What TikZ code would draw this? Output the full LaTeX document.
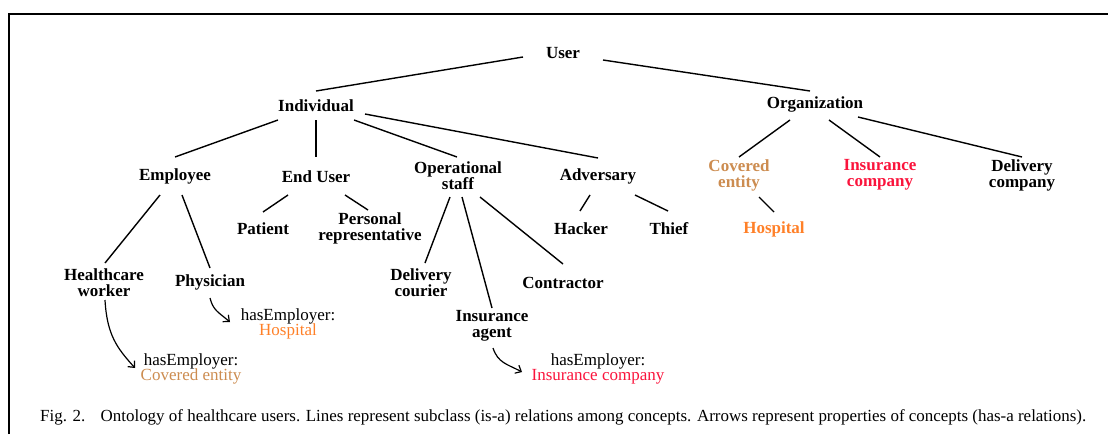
\documentclass[tikz,border=0pt]{standalone}
\usepackage{fontspec}
\setmainfont{Liberation Serif}
\usetikzlibrary{calc,arrows.meta}
\definecolor{coveredtan}{RGB}{204,140,80}
\definecolor{hosporange}{RGB}{255,128,40}
\definecolor{insred}{RGB}{250,20,60}
\begin{document}
\begin{tikzpicture}[x=1pt,y=-1pt,
  concept/.style={font=\bfseries\fontsize{17}{16}\selectfont, align=center, inner sep=0pt},
  prop/.style={font=\fontsize{17}{15.5}\selectfont, align=center, inner sep=0pt},
  isa/.style={line width=1.4pt},
  hasa/.style={line width=1.2pt, -{Straight Barb[length=5pt,width=9pt]}}]
\useasboundingbox (0,0) rectangle (1108,434);
% frame
\draw[line width=2pt] (8.5,434) -- (8.5,14) -- (1108,14);

% concepts
\node[concept] (user) at (563,53) {User};
\node[concept] (ind) at (316,106) {Individual};
\node[concept] (org) at (815,104) {Organization};
\node[concept] (emp) at (175,176) {Employee};
\node[concept] (enduser) at (316,177) {End User};
\node[concept] (ops) at (458,176) {Operational\\staff};
\node[concept] (adv) at (598,176) {Adversary};
\node[concept, text=coveredtan] (cov) at (739,175) {Covered\\entity};
\node[concept, text=insred] (insco) at (880,175) {Insurance\\company};
\node[concept] (delco) at (1022,175) {Delivery\\company};
\node[concept] (pat) at (263,229) {Patient};
\node[concept] (rep) at (370,228) {Personal\\representative};
\node[concept] (hack) at (581,229) {Hacker};
\node[concept] (thief) at (669,229) {Thief};
\node[concept, text=hosporange] (hosp) at (774,229) {Hospital};
\node[concept] (hw) at (104,283) {Healthcare\\worker};
\node[concept] (phys) at (210,282) {Physician};
\node[concept] (courier) at (421,283) {Delivery\\courier};
\node[concept] (contr) at (563,283) {Contractor};
\node[concept] (agent) at (492,326) {Insurance\\agent};

% properties
\node[prop] (phosp) at (288,324) {hasEmployer:\\\textcolor{hosporange}{Hospital}};
\node[prop] (pcov) at (191,369) {hasEmployer:\\\textcolor{coveredtan}{Covered entity}};
\node[prop] (pins) at (598,369) {hasEmployer:\\\textcolor{insred}{Insurance company}};

% subclass (is-a) lines
\draw[isa] ($(user)+(-40,4)$) -- ($(ind)+(0,-15)$);
\draw[isa] ($(user)+(40,7)$) -- ($(org)+(-5,-13)$);
\draw[isa] ($(ind)+(-38,14)$) -- ($(emp)+(0,-19)$);
\draw[isa] ($(ind)+(0,14)$) -- ($(enduser)+(0,-20)$);
\draw[isa] ($(ind)+(38,14)$) -- ($(ops)+(-1,-19)$);
\draw[isa] ($(ind)+(49,8)$) -- ($(adv)+(0,-18)$);
\draw[isa] ($(org)+(-25,16)$) -- ($(cov)+(0,-18)$);
\draw[isa] ($(org)+(14,16)$) -- ($(insco)+(0,-18)$);
\draw[isa] ($(org)+(43,13)$) -- ($(delco)+(0,-18)$);
\draw[isa] ($(emp)+(-15,19)$) -- ($(hw)+(1,-20)$);
\draw[isa] ($(emp)+(7,19)$) -- ($(phys)+(0,-14)$);
\draw[isa] ($(enduser)+(-28,18)$) -- ($(pat)+(0,-17)$);
\draw[isa] ($(enduser)+(29,18)$) -- ($(rep)+(-2,-18)$);
\draw[isa] ($(ops)+(-8,21)$) -- ($(courier)+(4,-20)$);
\draw[isa] ($(ops)+(4,21)$) -- ($(agent)+(0,-18)$);
\draw[isa] ($(ops)+(22,21)$) -- ($(contr)+(0,-19)$);
\draw[isa] ($(adv)+(-8,19)$) -- ($(hack)+(-1,-18)$);
\draw[isa] ($(adv)+(37,19)$) -- ($(thief)+(-1,-18)$);
\draw[isa] ($(cov)+(20,22)$) -- ($(hosp)+(0,-17)$);

% property (has-a) arrows
\draw[hasa] ($(hw)+(1,17)$) .. controls +(2,35) and +(-18,-20) .. ($(pcov)+(-56,-1)$);
\draw[hasa] ($(phys)+(0,16)$) .. controls +(3,12) and +(-12,-10) .. ($(phosp)+(-58,-2)$);
\draw[hasa] ($(agent)+(1,22)$) .. controls +(5,15) and +(-15,-8) .. ($(pins)+(-76,3)$);

% caption
\node[anchor=west, inner sep=0pt, font=\fontsize{16.95}{18}\selectfont] (cap) at (40,417)
  {Fig. 2.\hspace{0.9em}Ontology of healthcare users. Lines represent subclass (is-a) relations among concepts. Arrows represent properties of concepts (has-a relations).};
\end{tikzpicture}
\end{document}
